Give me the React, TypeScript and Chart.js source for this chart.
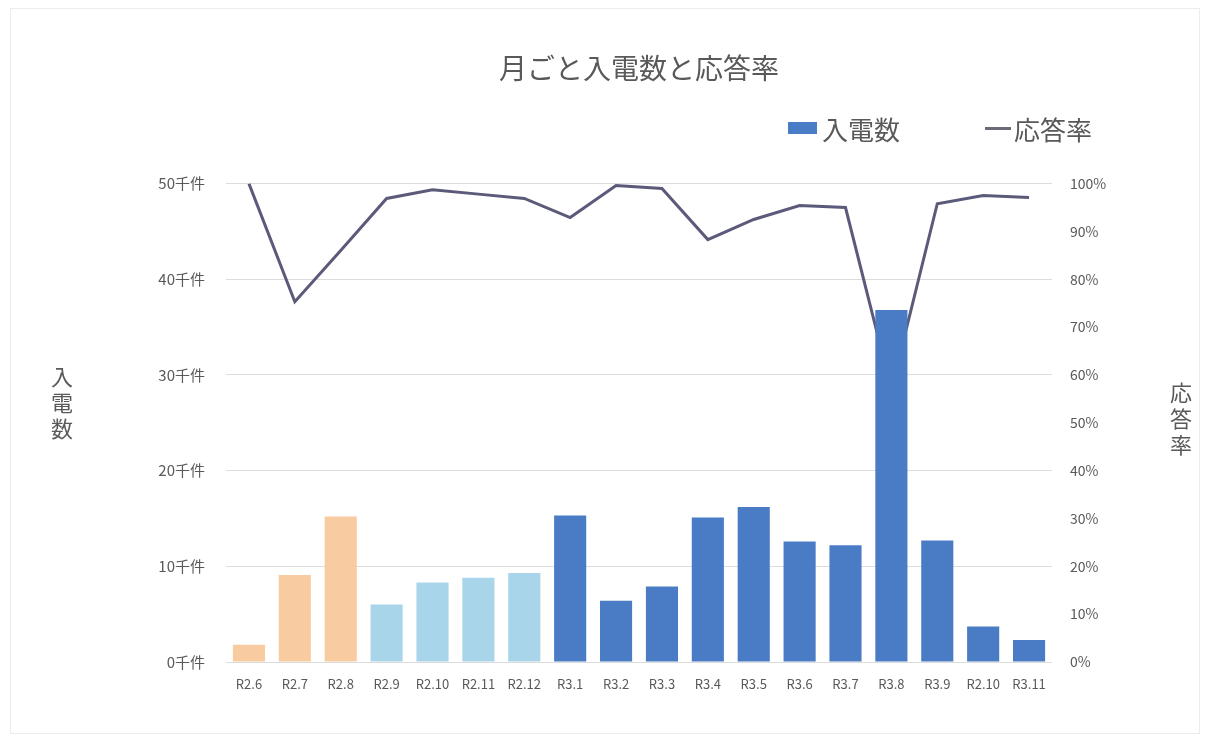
import React, { useEffect, useRef } from "react";
import { Chart, registerables } from "chart.js";

Chart.register(...registerables);

const categories = [
  "R2.6", "R2.7", "R2.8", "R2.9", "R2.10", "R2.11", "R2.12",
  "R3.1", "R3.2", "R3.3", "R3.4", "R3.5", "R3.6", "R3.7", "R3.8", "R3.9", "R2.10", "R3.11",
];
// 入電数 (千件)
const callCounts = [1.8, 9.1, 15.2, 6.0, 8.3, 8.8, 9.3, 15.3, 6.4, 7.9, 15.1, 16.2, 12.6, 12.2, 36.8, 12.7, 3.7, 2.3];
// 応答率 (%)
const answerRates = [100, 75.3, 86, 96.9, 98.7, 97.8, 96.9, 92.9, 99.6, 99, 88.3, 92.5, 95.4, 95, 57, 95.8, 97.5, 97.1];

const leftTicks = [0, 10, 20, 30, 40, 50];
const leftTickSuffix = "千件";
const rightTicks = [0, 10, 20, 30, 40, 50, 60, 70, 80, 90, 100];
const rightTickSuffix = "%";

const titleText = "月ごと入電数と応答率";
const barLabel = "入電数";
const lineLabel = "応答率";

const FONT = "'Noto Sans CJK JP', 'Noto Sans', sans-serif";
const TEXT = "#595959";
const ORANGE = "#F8CBA1";
const LIGHTBLUE = "#A9D5EA";
const BLUE = "#4A7CC6";
const LINE = "#5B5A7A";

export default function App() {
  const ref = useRef<HTMLCanvasElement | null>(null);

  useEffect(() => {
    if (!ref.current) return;
    Chart.defaults.font.family = FONT;
    const chart = new Chart(ref.current, {
      type: "bar",
      data: {
        labels: categories,
        datasets: [
          {
            type: "bar",
            label: barLabel,
            data: callCounts,
            yAxisID: "y",
            order: 1,
            backgroundColor: (c: any) =>
              c.dataIndex < 3 ? ORANGE : c.dataIndex < 7 ? LIGHTBLUE : BLUE,
            barPercentage: 0.7,
            categoryPercentage: 1,
          },
          {
            type: "line",
            label: lineLabel,
            data: answerRates,
            yAxisID: "y1",
            order: 2,
            borderColor: LINE,
            borderWidth: 3,
            pointRadius: 0,
            tension: 0,
            fill: false,
          },
        ] as any,
      },
      options: {
        animation: false,
        responsive: false,
        maintainAspectRatio: false,
        layout: { padding: { top: 0, left: 0, right: 0, bottom: 40 } },
        plugins: {
          legend: { display: false },
          tooltip: { enabled: false },
          title: {
            display: true,
            text: titleText,
            fullSize: false,
            color: TEXT,
            font: { size: 28, weight: "normal", family: FONT },
            padding: { top: 52, bottom: 98 },
          },
        },
        scales: {
          x: {
            grid: { display: false, drawTicks: false },
            border: { display: false },
            ticks: {
              color: TEXT,
              font: { size: 13 },
              padding: 14,
              autoSkip: false,
              maxRotation: 0,
              minRotation: 0,
            },
            afterFit: (s: any) => {
              s.height = 40;
            },
          },
          y: {
            position: "left",
            min: 0,
            max: 50,
            afterBuildTicks: (s: any) => {
              s.ticks = leftTicks.map((v) => ({ value: v }));
            },
            grid: { color: "#DCDCDC", lineWidth: 1, drawTicks: false },
            border: { display: false },
            ticks: {
              color: TEXT,
              font: { size: 15 },
              padding: 21,
              callback: (v: any) => `${v}${leftTickSuffix}`,
            },
            afterFit: (s: any) => {
              s.width = 226;
            },
          },
          y1: {
            position: "right",
            min: 0,
            max: 100,
            afterBuildTicks: (s: any) => {
              s.ticks = rightTicks.map((v) => ({ value: v }));
            },
            grid: { display: false, drawTicks: false },
            border: { display: false },
            ticks: {
              color: TEXT,
              font: { size: 14 },
              padding: 18,
              callback: (v: any) => `${v}${rightTickSuffix}`,
            },
            afterFit: (s: any) => {
              s.width = 162;
            },
          },
        },
      } as any,
    });
    return () => chart.destroy();
  }, []);

  const vText: React.CSSProperties = {
    position: "absolute",
    fontFamily: FONT,
    fontSize: 22,
    lineHeight: "26px",
    color: TEXT,
    width: 30,
    textAlign: "center",
  };

  return (
    <div style={{ position: "absolute", left: 0, top: 0, width: 1214, height: 742, background: "#fff" }}>
      <div
        style={{
          position: "absolute",
          left: 10,
          top: 8,
          width: 1190,
          height: 726,
          border: "1px solid #ececec",
          boxSizing: "border-box",
        }}
      />
      <canvas ref={ref} width={1214} height={742} style={{ position: "absolute", left: 0, top: 0 }} />
      <div style={{ ...vText, left: 47, top: 362 }}>
        入<br />電<br />数
      </div>
      <div style={{ ...vText, left: 1166, top: 378 }}>
        応<br />答<br />率
      </div>
      <div
        style={{
          position: "absolute",
          left: 788,
          top: 110,
          height: 36,
          display: "flex",
          alignItems: "center",
          fontFamily: FONT,
          fontSize: 26,
          color: TEXT,
        }}
      >
        <span style={{ display: "inline-block", width: 29, height: 12, background: BLUE, marginRight: 5 }} />
        <span>{barLabel}</span>
      </div>
      <div
        style={{
          position: "absolute",
          left: 985,
          top: 110,
          height: 36,
          display: "flex",
          alignItems: "center",
          fontFamily: FONT,
          fontSize: 26,
          color: TEXT,
        }}
      >
        <span style={{ display: "inline-block", width: 26, height: 3, background: "#6A6A78", marginRight: 3 }} />
        <span>{lineLabel}</span>
      </div>
    </div>
  );
}
